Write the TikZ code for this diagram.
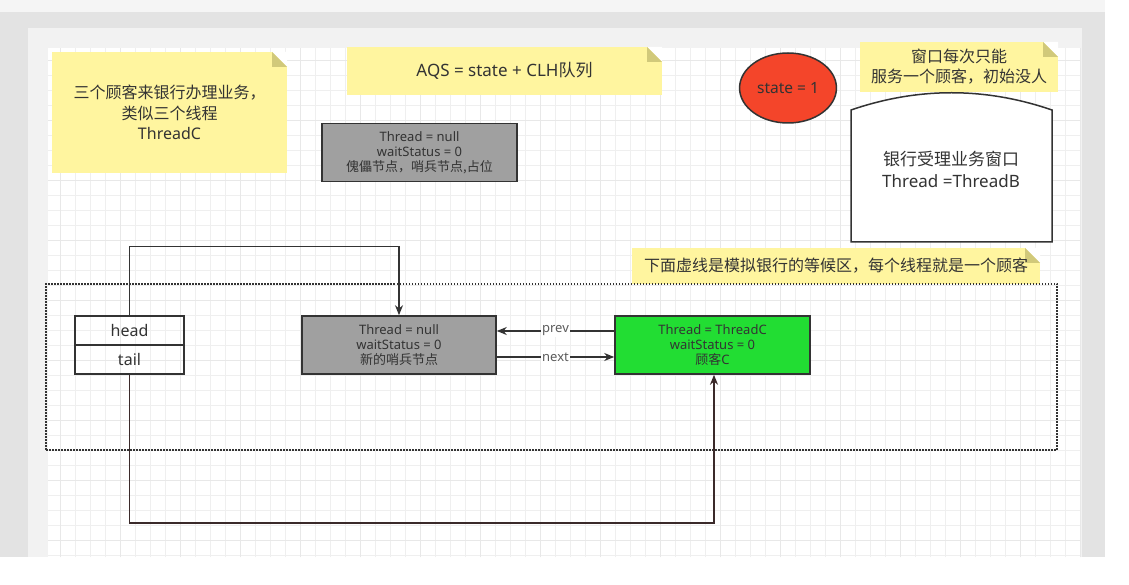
\documentclass[tikz,border=0pt]{standalone}
\usepackage{fontspec}
\setmainfont{Noto Sans}
\newfontfamily\cjk{Noto Sans CJK SC}
\usetikzlibrary{arrows.meta,shapes.geometric}
\definecolor{notebg}{HTML}{FFF59F}
\definecolor{notefold}{HTML}{D1C97A}
\definecolor{sentgray}{HTML}{A0A0A0}
\definecolor{custgreen}{HTML}{22DD33}
\definecolor{statered}{HTML}{F4452A}
\definecolor{txt}{HTML}{333333}
\definecolor{tailline}{HTML}{3B2A2A}
\definecolor{gridc}{HTML}{EFEFEF}
\begin{document}
\begin{tikzpicture}[x=1pt,y=-1pt,
  note/.style={fill=notebg,text=txt,align=center,inner sep=0pt,
    path picture={
      \fill[white] ([xshift=-15pt]path picture bounding box.north east) -- (path picture bounding box.north east)
        -- ([yshift=-15pt]path picture bounding box.north east) -- cycle;
      \fill[notefold] ([xshift=-15pt]path picture bounding box.north east) -- ([xshift=-15pt,yshift=-15pt]path picture bounding box.north east)
        -- ([yshift=-15pt]path picture bounding box.north east) -- cycle;}},
  tbox/.style={draw=txt,line width=1.6pt,minimum width=195pt,minimum height=58pt,align=center,
    text=txt,font=\fontsize{13}{15}\selectfont},
  ptr/.style={draw=txt,line width=1.4pt,minimum width=109pt,minimum height=29pt,text=txt,
    font=\fontsize{16}{18}\selectfont},
  conn/.style={draw=txt,line width=1.4pt,-{Stealth[length=10pt,width=8pt]}},
  lbl/.style={fill=white,text=txt!80,inner sep=1pt,font=\fontsize{13}{14}\selectfont}]
\useasboundingbox (0,0) rectangle (1129,585);
\fill[white] (0,0) rectangle (1129,585);
\fill[black!4] (0,0) rectangle (1105,12);
\fill[black!11] (0,12) rectangle (1105,557);
\fill[black!5] (28,28) rectangle (1082,557);
\fill[white] (48,48) rectangle (1080,557);
\draw[gridc,line width=0.6pt,step=15pt] (48,48) grid (1080,557);
\draw[black!9,line width=0.6pt,step=60pt] (48,48) grid (1080,557);

\node[note,minimum width=235pt,minimum height=121pt,font=\fontsize{16}{20.5}\selectfont] (intro) at (169.5,112.5)
  {{\cjk 三个顾客来银行办理业务，}\\{\cjk 类似三个线程}\\ThreadC};
\node[note,minimum width=315pt,minimum height=48pt,font=\fontsize{17}{20}\selectfont] (aqs) at (504.5,71)
  {AQS = state + CLH{\cjk 队列}};
\node[note,minimum width=198pt,minimum height=50pt,font=\fontsize{16}{20}\selectfont\cjk] (winnote) at (959,67)
  {窗口每次只能\\服务一个顾客，初始没人};
\node[note,minimum width=408pt,minimum height=36pt,font=\fontsize{16}{20}\selectfont\cjk] (areanote) at (836,266)
  {下面虚线是模拟银行的等候区，每个线程就是一个顾客};

\node[tbox,fill=sentgray] (dummy) at (419.5,152.5) {Thread = null\\waitStatus = 0\\{\cjk 傀儡节点，哨兵节点,占位}};
\node[ellipse,draw=txt,line width=1.5pt,fill=statered,minimum width=84pt,minimum height=70pt,text=txt,
  font=\fontsize{15.5}{17}\selectfont] (state) at (788,88) {state = 1};

\draw[txt,line width=1.5pt,fill=white] (851,242) -- (851,110) .. controls (918,87) and (985,87) .. (1052,110) -- (1052,242) -- cycle;
\node[align=center,text=txt,font=\fontsize{17}{22}\selectfont] (window) at (951,169) {{\cjk 银行受理业务窗口}\\Thread =ThreadB};

\node[draw=txt,line width=1.5pt,dash pattern=on 1.5pt off 1.5pt,minimum width=1011pt,minimum height=166pt] (waitarea) at (551.5,367) {};

\node[ptr] (head) at (129.5,330.5) {head};
\node[ptr] (tail) at (129.5,359.5) {tail};
\node[tbox,fill=sentgray,minimum width=194pt] (sentinel) at (399,345) {Thread = null\\waitStatus = 0\\{\cjk 新的哨兵节点}};
\node[tbox,fill=custgreen] (custC) at (712.5,345) {Thread = ThreadC\\waitStatus = 0\\{\cjk 顾客}C};

\draw[conn] ([yshift=14pt]custC.west) -- node[lbl] {prev} ([yshift=14pt]sentinel.east);
\draw[conn] ([yshift=-12pt]sentinel.east) -- node[lbl] {next} ([yshift=-12pt]custC.west);
\draw[conn] (head.north) -- ++(0,-69) -| (sentinel.north);
\draw[conn,draw=tailline,line width=1.8pt] (tail.south) -- ++(0,148) -| ([xshift=1.5pt]custC.south);
\end{tikzpicture}
\end{document}
